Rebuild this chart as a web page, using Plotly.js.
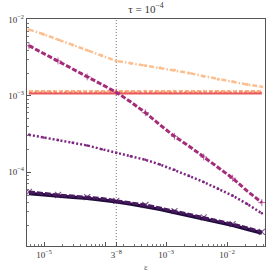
<!DOCTYPE html>
<html><head><meta charset="utf-8">
<script src="https://cdn.plot.ly/plotly-3.0.1.min.js"></script>
<style>html,body{margin:0;padding:0;background:#fff}#c{width:274px;height:274px}</style>
</head><body><div id="c"></div>
<script>
// eps grid: 3^-11 ... 3^-3 in half steps
const eps = [5.65e-6, 9.79e-6, 1.69e-5, 2.94e-5, 5.08e-5, 8.81e-5, 1.524e-4, 2.64e-4, 4.57e-4, 7.92e-4, 1.37e-3, 2.38e-3, 4.12e-3, 7.13e-3, 1.23e-2, 2.14e-2, 3.70e-2];
const peach   = [7.41e-3, 6.46e-3, 5.50e-3, 4.68e-3, 3.98e-3, 3.39e-3, 2.88e-3, 2.69e-3, 2.51e-3, 2.34e-3, 2.19e-3, 2.00e-3, 1.82e-3, 1.66e-3, 1.55e-3, 1.41e-3, 1.32e-3];
const orangeA = [1.15e-3, 1.15e-3, 1.15e-3, 1.15e-3, 1.15e-3, 1.15e-3, 1.15e-3, 1.15e-3, 1.15e-3, 1.15e-3, 1.15e-3, 1.15e-3, 1.15e-3, 1.15e-3, 1.15e-3, 1.15e-3, 1.15e-3];
const orangeB = [1.11e-3, 1.11e-3, 1.11e-3, 1.11e-3, 1.11e-3, 1.11e-3, 1.11e-3, 1.11e-3, 1.11e-3, 1.11e-3, 1.11e-3, 1.11e-3, 1.11e-3, 1.11e-3, 1.11e-3, 1.11e-3, 1.11e-3];
const redC    = [1.08e-3, 1.08e-3, 1.08e-3, 1.08e-3, 1.08e-3, 1.08e-3, 1.08e-3, 1.08e-3, 1.08e-3, 1.08e-3, 1.08e-3, 1.08e-3, 1.08e-3, 1.08e-3, 1.08e-3, 1.08e-3, 1.08e-3];
const magenta = [4.57e-3, 3.63e-3, 2.88e-3, 2.29e-3, 1.78e-3, 1.41e-3, 1.12e-3, 8.32e-4, 6.03e-4, 4.17e-4, 2.95e-4, 2.19e-4, 1.58e-4, 1.15e-4, 8.32e-5, 5.62e-5, 3.98e-5];
const purple  = [3.09e-4, 2.85e-4, 2.63e-4, 2.43e-4, 2.24e-4, 2.00e-4, 1.80e-4, 1.62e-4, 1.45e-4, 1.26e-4, 1.07e-4, 8.91e-5, 7.41e-5, 6.03e-5, 4.90e-5, 3.80e-5, 2.88e-5];
const darkA   = [5.25e-5, 5.01e-5, 4.79e-5, 4.68e-5, 4.52e-5, 4.32e-5, 4.07e-5, 3.80e-5, 3.55e-5, 3.24e-5, 2.95e-5, 2.69e-5, 2.45e-5, 2.24e-5, 2.00e-5, 1.78e-5, 1.58e-5];
const darkB   = [5.5e-5, 5.2e-5, 5.0e-5, 4.85e-5, 4.7e-5, 4.5e-5, 4.2e-5, 3.95e-5, 3.7e-5, 3.38e-5, 3.07e-5, 2.8e-5, 2.55e-5, 2.33e-5, 2.08e-5, 1.85e-5, 1.64e-5];
const xTickVals = [1e-5, 1e-4, 1.524e-4, 1e-3, 1e-2];
const xTickText = ['10<sup>−5</sup>', '', '3<sup>−8</sup>', '10<sup>−3</sup>', '10<sup>−2</sup>'];
const yTickVals = [1e-4, 1e-3, 1e-2];
const yTickText = ['10<sup>−4</sup>', '10<sup>−3</sup>', '10<sup>−2</sup>'];
const title = 'τ = 10<sup>−4</sup>';
const xTitle = 'ε';
const vlineX = 1.524e-4;

function minors(lo, hi){ const v=[]; for(let e=lo;e<=hi;e++){ for(let m=2;m<=9;m++) v.push(m*Math.pow(10,e)); } return v; }
const alt = (a,b)=>eps.map((_,i)=> i%2===0 ? a : b);

const traces = [
  {x:eps, y:peach, mode:'lines+markers', line:{color:'#fcbf90', width:2.5, dash:'5px,2px,1.5px,2px'}, marker:{size:3, color:'#fcbf90'}},
  {x:eps, y:orangeA, mode:'lines+markers', line:{color:'#fcac7a', width:2.5, dash:'4px,2px'}, marker:{symbol:'square-open', size:alt(4,0), color:'#fff3e8'}},
  {x:eps, y:orangeB, mode:'lines', line:{color:'#f68a62', width:2, dash:'3px,2px'}},
  {x:eps, y:redC, mode:'lines', line:{color:'#e8585c', width:2}},
  {x:eps, y:magenta, mode:'lines+markers', line:{color:'#a52c79', width:3, dash:'5px,2px'}, marker:{symbol:'cross-thin-open', size:alt(5,0), line:{color:'#e69ac4', width:1}}},
  {x:eps, y:purple, mode:'lines+markers', line:{color:'#7d2682', width:2.5, dash:'2px,2px'}, marker:{size:2.5, color:'#7d2682'}},
  {x:eps, y:darkA, mode:'lines', line:{color:'#1f0c3b', width:3.5}},
  {x:eps, y:darkB, mode:'lines+markers', line:{color:'#4a1860', width:3, dash:'6px,2px'}, marker:{symbol:'x-thin-open', size:alt(6,0), line:{color:'#d9c6e0', width:1.2}}}
];

const axFont = {family:'Liberation Serif, DejaVu Serif, serif', size:9, color:'#333'};
const layout = {
  width:274, height:274,
  margin:{l:27, r:9, t:19, b:28},
  paper_bgcolor:'#fff', plot_bgcolor:'#fff',
  showlegend:false,
  title:{text:title, font:{family:'Liberation Serif, serif', size:11, color:'#333'}, x:0.5, xref:'paper', xanchor:'center', y:1-9/274, yref:'container', yanchor:'middle'},
  xaxis:{type:'log', range:[-5.28, -1.38], showgrid:false, zeroline:false, showline:true, mirror:true, linecolor:'#555', linewidth:1.2,
    tickmode:'array', tickvals:xTickVals, ticktext:xTickText, ticks:'inside', ticklen:4, tickcolor:'#555', tickfont:axFont,
    minor:{tickmode:'array', tickvals:minors(-6,-1), ticks:'inside', ticklen:2, tickcolor:'#777'},
    title:{text:xTitle, font:{family:'Liberation Serif, serif', size:9, color:'#666'}, standoff:4}},
  yaxis:{type:'log', range:[-4.97, -1.99], showgrid:false, zeroline:false, showline:true, mirror:true, linecolor:'#555', linewidth:1.2,
    tickmode:'array', tickvals:yTickVals, ticktext:yTickText, ticks:'inside', ticklen:4, tickcolor:'#555', tickfont:axFont,
    minor:{tickmode:'array', tickvals:minors(-5,-2), ticks:'inside', ticklen:2, tickcolor:'#777'}},
  shapes:[{type:'line', xref:'x', yref:'paper', x0:vlineX, x1:vlineX, y0:0, y1:1, line:{color:'#777', width:1, dash:'1px,2px'}, layer:'below'}]
};
Plotly.newPlot('c', traces, layout, {staticPlot:true, displayModeBar:false});
</script></body></html>
